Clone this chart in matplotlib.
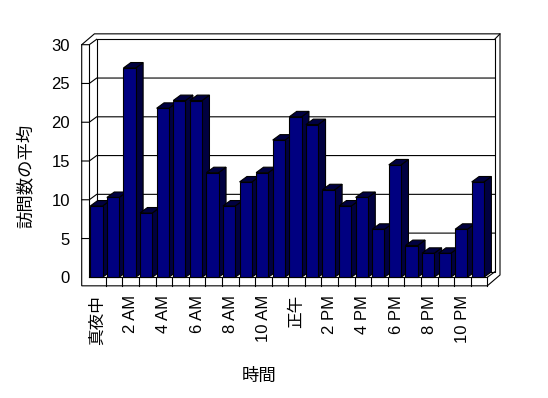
import matplotlib
matplotlib.use("Agg")
import matplotlib.pyplot as plt
from matplotlib.patches import Polygon

plt.rcParams['font.family'] = ['Liberation Sans', 'Noto Sans CJK JP']

# average visits per hour
hours = list(range(24))
visits = [9.2, 10.3, 27.0, 8.3, 21.8, 22.8, 22.8, 13.5, 9.2, 12.3, 13.5, 17.7,
          20.7, 19.7, 11.3, 9.2, 10.3, 6.2, 14.5, 4.1, 3.1, 3.1, 6.2, 12.3]
tick_hours = [0, 2, 4, 6, 8, 10, 12, 14, 16, 18, 20, 22]
tick_labels = ["真夜中", "2 AM", "4 AM", "6 AM", "8 AM", "10 AM",
               "正午", "2 PM", "4 PM", "6 PM", "8 PM", "10 PM"]
y_ticks = [0, 5, 10, 15, 20, 25, 30]

W, H = 548, 398
fig = plt.figure(figsize=(W / 100, H / 100), dpi=100)
# front plane of the 3D box, in pixels
left, right, top, bottom = 89.3, 487.3, 44.7, 277.3
ax = fig.add_axes([left / W, (H - bottom) / H, (right - left) / W, (bottom - top) / H])
ax.set_xlim(0, 24)
ax.set_ylim(0, 30)
for s in ax.spines.values():
    s.set_visible(False)

# depth offsets in data units
n = len(hours)
dx1, dy1 = 0.446, 0.70   # back wall plane
dx2, dy2 = 0.766, 1.40   # outer back edge
t = 0.458                # wall thickness
fb = -1.1                # floor bottom
lw = 0.8
k = dict(color="black", lw=lw, clip_on=False)

# outer box
ax.add_patch(Polygon([(-t, fb), (n, fb), (n + dx2, fb + dy2), (n + dx2, 30 + dy2),
                      (-t + dx2, 30 + dy2), (-t, 30)], closed=True,
                     facecolor="white", edgecolor="black", lw=lw, clip_on=False, zorder=0))
# back wall
ax.plot([dx1, n + dx1, n + dx1, dx1, dx1], [dy1, dy1, 30 + dy1, 30 + dy1, dy1], zorder=1, **k)
ax.plot([n + dx1, n + dx2], [30 + dy1, 30 + dy2], zorder=1, **k)
# left wall
ax.plot([0, 0], [0, 30], zorder=1, **k)
ax.plot([-t, 0, dx1], [30, 30, 30 + dy1], zorder=1, **k)
# floor
ax.plot([0, n], [0, 0], zorder=1, **k)
ax.plot([n, n + dx1], [0, dy1], zorder=1, **k)
ax.plot([n, n], [fb, 0], zorder=1, **k)
for i in range(1, n):
    ax.plot([i, i], [fb, 0], zorder=1, **k)
# gridlines
for v in y_ticks[1:-1]:
    ax.plot([-t, 0, dx1, n + dx1], [v, v, v + dy1, v + dy1], zorder=1, **k)

# bars: side + top faces then front faces
x0s = [h + 0.06 for h in hours]
bw = 0.74
for x0, v in zip(x0s, visits):
    x1 = x0 + bw
    ax.add_patch(Polygon([(x1, 0), (x1 + dx1, dy1), (x1 + dx1, v + dy1), (x1, v)],
                         closed=True, facecolor="#000040", edgecolor="black", lw=lw,
                         clip_on=False, zorder=2))
    ax.add_patch(Polygon([(x0, v), (x0 + dx1, v + dy1), (x1 + dx1, v + dy1), (x1, v)],
                         closed=True, facecolor="#000040", edgecolor="black", lw=lw,
                         clip_on=False, zorder=2))
ax.bar(x0s, visits, width=bw, align="edge", color="#000080", edgecolor="black",
       linewidth=lw, clip_on=False, zorder=3)

ax.set_yticks(y_ticks)
ax.set_yticklabels([str(v) for v in y_ticks], fontsize=12)
ax.set_xticks([h + 0.5 for h in tick_hours])
ax.set_xticklabels(tick_labels, rotation=90, fontsize=12, va="top", ha="center")
ax.tick_params(axis="y", length=0, pad=13.9)
ax.tick_params(axis="x", length=0, pad=12.7)

fig.text(25.5 / W, 1 - 175.5 / H, "訪問数の平均", rotation=90, fontsize=12.5,
         ha="center", va="center")
fig.text(259 / W, 1 - 375.7 / H, "時間", fontsize=12.5, ha="center", va="center")

fig.savefig("out.png", dpi=100, facecolor="white")
